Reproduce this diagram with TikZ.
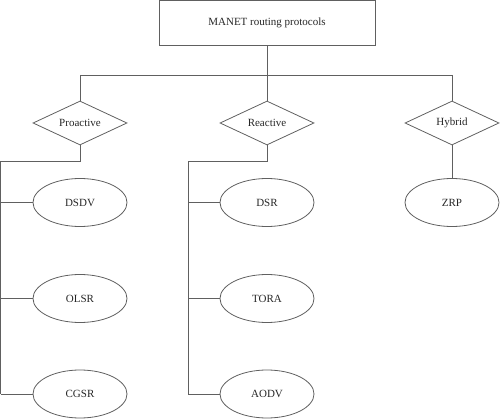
\documentclass[tikz,border=0pt]{standalone}
\usepackage{fontspec}
\setmainfont{Liberation Serif}
\usetikzlibrary{shapes.geometric}
\definecolor{linegray}{HTML}{606060}
\begin{document}
\begin{tikzpicture}[x=1pt,y=-1pt,
  line width=0.8pt,
  every node/.style={font=\fontsize{11}{13}\selectfont, text=black!85},
  rootbox/.style={draw=linegray, rectangle, minimum width=216pt, minimum height=44.5pt, inner sep=0pt},
  catbox/.style={draw=linegray, diamond, aspect=2.14, minimum width=94pt, minimum height=44pt, inner sep=0pt},
  protobox/.style={draw=linegray, ellipse, minimum width=94pt, minimum height=48pt, inner sep=0pt},
  conn/.style={draw=linegray}]
\useasboundingbox (0,0) rectangle (500,419);
\node[rootbox] (root) at (267,22.8) {MANET routing protocols};
\node[catbox] (pro) at (80,123) {Proactive};
\node[catbox] (rea) at (267,123) {Reactive};
\node[catbox] (hyb) at (452,123) {Hybrid};
\node[protobox] (dsdv) at (80,202.5) {DSDV};
\node[protobox] (olsr) at (80,298.5) {OLSR};
\node[protobox] (cgsr) at (80,394) {CGSR};
\node[protobox] (dsr) at (267,202.5) {DSR};
\node[protobox] (tora) at (267,298.5) {TORA};
\node[protobox] (aodv) at (267,394) {AODV};
\node[protobox] (zrp) at (452,202.5) {ZRP};
\coordinate (b0) at (80,75);
\coordinate (b1) at (267,75);
\coordinate (b2) at (452,75);
\coordinate (p1) at (80,161);
\coordinate (p2) at (0.7,161);
\coordinate (r1) at (267,161);
\coordinate (r2) at (188,161);
\draw[conn] (root.south) -- (b1);
\draw[conn] (b0) -- (b2);
\draw[conn] (b0) -- (pro.north);
\draw[conn] (b1) -- (rea.north);
\draw[conn] (b2) -- (hyb.north);
\draw[conn] (pro.south) -- (p1) -- (p2) -- (p2 |- cgsr);
\draw[conn] (p2 |- dsdv) -- (dsdv.west);
\draw[conn] (p2 |- olsr) -- (olsr.west);
\draw[conn] (p2 |- cgsr) -- (cgsr.west);
\draw[conn] (rea.south) -- (r1) -- (r2) -- (r2 |- aodv);
\draw[conn] (r2 |- dsr) -- (dsr.west);
\draw[conn] (r2 |- tora) -- (tora.west);
\draw[conn] (r2 |- aodv) -- (aodv.west);
\draw[conn] (hyb.south) -- (zrp.north);
\end{tikzpicture}
\end{document}
